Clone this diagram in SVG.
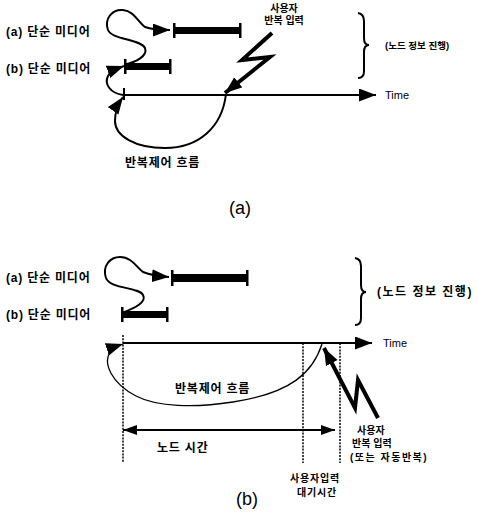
<svg xmlns="http://www.w3.org/2000/svg" width="478" height="512" viewBox="0 0 478 512">
<style>
  text { font-family: "Liberation Sans", "Noto Sans CJK KR", sans-serif; fill: #000; }
  .lbl { font-size: 12px; font-weight: bold; letter-spacing: 0.8px; }
  .sm { font-size: 10px; font-weight: bold; }
  .cap { font-size: 18px; }
  .time { font-size: 11px; }
  .ln { fill: none; stroke: #000; stroke-width: 2; }
  .thin { fill: none; stroke: #000; stroke-width: 1.3; }
  .bolt { fill: none; stroke: #000; stroke-width: 4; stroke-linejoin: miter; }
  .dash { fill: none; stroke: #000; stroke-width: 1.5; stroke-dasharray: 2 1.2; }
  .bar { fill: #000; }
</style>
<defs>
  <marker id="ah" markerUnits="userSpaceOnUse" markerWidth="20" markerHeight="14" refX="17" refY="6.5" orient="auto">
    <path d="M0,0 L17,6.5 L0,13 z" fill="#000"/>
  </marker>
  <marker id="ahs" markerUnits="userSpaceOnUse" markerWidth="16" markerHeight="12" refX="14" refY="5" orient="auto">
    <path d="M0,0 L14,5 L0,10 z" fill="#000"/>
  </marker>
  <marker id="ahst" markerUnits="userSpaceOnUse" markerWidth="16" markerHeight="12" refX="0" refY="5" orient="auto">
    <path d="M14,0 L0,5 L14,10 z" fill="#000"/>
  </marker>
</defs>

<!-- ============ Part (a) ============ -->
<g id="a-label-a"><text class="lbl" x="6" y="36">(a) 단순 미디어</text></g>
<g id="a-label-b"><text class="lbl" x="6" y="73">(b) 단순 미디어</text></g>

<g id="a-bar-a">
  <rect class="bar" x="174" y="27" width="66" height="7"/>
  <rect class="bar" x="173" y="23" width="2.5" height="15"/>
  <rect class="bar" x="239" y="23" width="2.5" height="15"/>
</g>
<g id="a-bar-b">
  <rect class="bar" x="125" y="63" width="45" height="7"/>
  <rect class="bar" x="124" y="59" width="2.5" height="15"/>
  <rect class="bar" x="169" y="59" width="2.5" height="15"/>
</g>

<g id="a-user-input">
  <text class="sm" x="284" y="12" text-anchor="middle">사용자</text>
  <text class="sm" x="284" y="24" text-anchor="middle">반복 입력</text>
</g>

<g id="a-brace">
  <path class="ln" d="M358,13 Q364,14 364,21 L364,38 Q364,45 369,45 Q364,45 364,52 L364,71 Q364,78 358,78"/>
  <text class="sm" x="385" y="49" style="font-size:9.5px">(노드 정보 진행)</text>
</g>

<g id="a-time">
  <text class="time" x="385" y="99">Time</text>
</g>

<g id="a-loop-label"><text class="lbl" x="125" y="167">반복제어 흐름</text></g>
<g id="a-caption"><text class="cap" x="229" y="214">(a)</text></g>

<g id="a-connectors">
  <line class="ln" x1="123" y1="95" x2="376" y2="95" marker-end="url(#ah)"/>
  <line class="ln" x1="124" y1="88" x2="124" y2="100"/>
  <path class="ln" d="M123,95 C110,93 104,84 108,76 C110,72 113,70 124,66" marker-end="url(#ah)"/>
  <path class="ln" d="M124,65 C136,62 148,56 145,48 C141,39 112,40 108,30 C104,19 112,9 123,10 C134,11 138,22 145,27 C150,29 158,30 170,30" marker-end="url(#ah)"/>
  <polyline class="bolt" points="272,33 242,60 270,57 225,93" marker-end="url(#ah)"/>
  <path class="ln" d="M226,94 C222,128 198,148 165,148 C135,148 115,136 115,121 C115,111 118,104 123,97" marker-end="url(#ah)"/>
</g>

<!-- ============ Part (b) ============ -->
<g id="b-label-a"><text class="lbl" x="6" y="282">(a) 단순 미디어</text></g>
<g id="b-label-b"><text class="lbl" x="6" y="319">(b) 단순 미디어</text></g>

<g id="b-bar-a">
  <rect class="bar" x="172" y="274" width="75" height="8"/>
  <rect class="bar" x="171" y="270" width="2.5" height="16"/>
  <rect class="bar" x="246" y="270" width="2.5" height="16"/>
</g>
<g id="b-bar-b">
  <rect class="bar" x="122" y="311" width="46" height="7"/>
  <rect class="bar" x="121" y="307" width="2.5" height="15"/>
  <rect class="bar" x="166" y="307" width="2.5" height="15"/>
</g>

<g id="b-brace">
  <path class="ln" d="M355,258 Q361,259 361,266 L361,285 Q361,292 366,292 Q361,292 361,299 L361,318 Q361,325 355,325"/>
  <text class="lbl" x="377" y="296" style="letter-spacing:1.5px">(노드 정보 진행)</text>
</g>

<g id="b-time"><text class="time" x="383" y="347">Time</text></g>

<g id="b-loop-label"><text class="lbl" x="175" y="393">반복제어 흐름</text></g>
<g id="b-node-time"><text class="lbl" x="157" y="452">노드 시간</text></g>

<g id="b-user-input">
  <text class="sm" x="357" y="434">사용자</text>
  <text class="sm" x="352" y="447">반복 입력</text>
  <text class="sm" x="350" y="461" style="letter-spacing:1.5px">(또는 자동반복)</text>
</g>

<g id="b-wait">
  <text class="sm" x="290" y="482" style="letter-spacing:0.8px">사용자입력</text>
  <text class="sm" x="297" y="496" style="letter-spacing:0.8px">대기시간</text>
</g>

<g id="b-caption"><text class="cap" x="236" y="505">(b)</text></g>

<g id="b-connectors">
  <path class="ln" d="M122,313 C135,308 147,302 143,295 C139,287 110,289 106,278 C102,266 110,257 120,257 C132,257 137,268 143,272 C148,274 156,276 169,277" marker-end="url(#ah)"/>
  <line class="ln" x1="123" y1="343" x2="372" y2="343" marker-end="url(#ah)"/>
  <line class="dash" x1="123" y1="335" x2="123" y2="463"/>
  <line class="dash" x1="303" y1="343" x2="303" y2="463"/>
  <line class="dash" x1="340" y1="343" x2="340" y2="463"/>
  <path class="thin" d="M322,344 C313,372 292,393 233,402 C195,408 157,407 136,396 C111,383 103,363 110,352 C113,348 117,346 123,344" marker-end="url(#ah)"/>
  <polyline class="bolt" points="378,418 358,380 355,408 324,348" marker-end="url(#ah)"/>
  <line class="ln" x1="123" y1="430" x2="335" y2="430" marker-start="url(#ahst)" marker-end="url(#ahs)"/>
</g>
</svg>
